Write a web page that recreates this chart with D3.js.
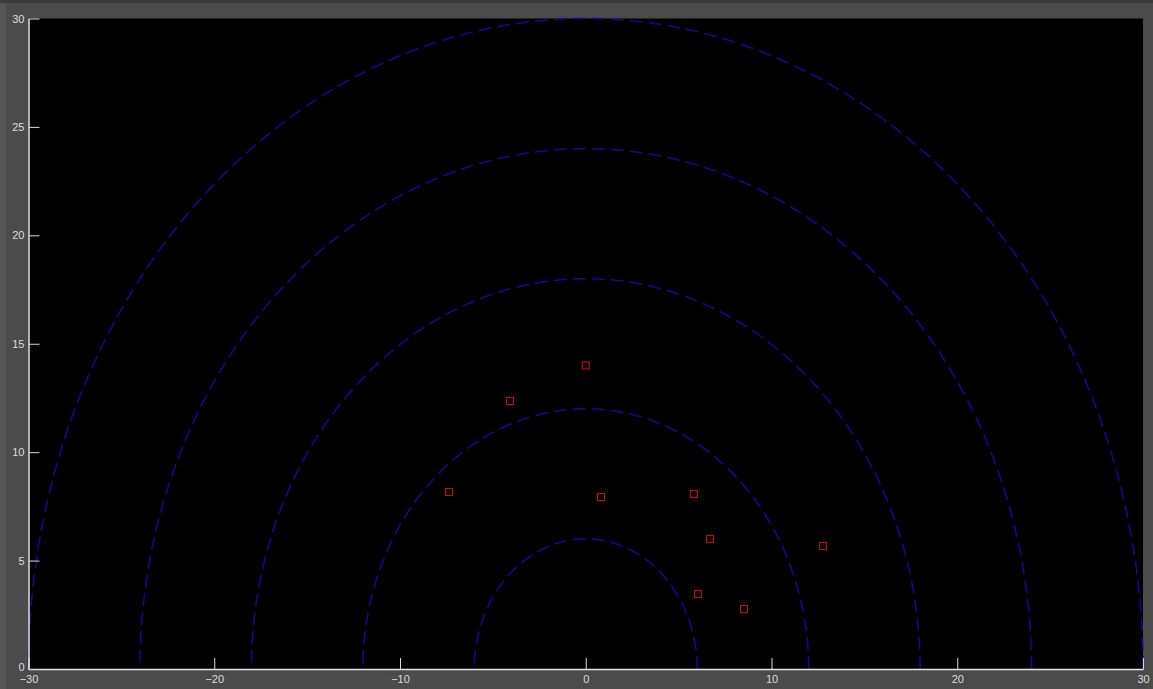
<!DOCTYPE html>
<html><head><meta charset="utf-8">
<script src="https://cdn.jsdelivr.net/npm/d3@7"></script>
<style>
html,body{margin:0;padding:0;background:#4b4b4b;overflow:hidden;}
svg{display:block;}
</style></head>
<body>
<svg id="chart" width="1153" height="689"></svg>
<script>
// Data
const radii = [6, 12, 18, 24, 30];
const pointsX = [0.0, -4.08, -7.36, 0.82, 5.83, 6.69, 12.77, 6.04, 8.52];
const pointsY = [14.0, 12.36, 8.16, 7.93, 8.07, 6.0, 5.67, 3.46, 2.77];
const xTicks = [-30, -20, -10, 0, 10, 20, 30];
const yTicks = [0, 5, 10, 15, 20, 25, 30];

(function(){
const svg = d3.select("#chart");
const W = 1153, H = 689;
const mL = 28.5, mR = 1143, mT = 18.5, mB = 669;

// background bands
svg.append("rect").attr("x",0).attr("y",0).attr("width",W).attr("height",H).attr("fill","#4b4b4b");
svg.append("rect").attr("x",0).attr("y",0).attr("width",6).attr("height",H).attr("fill","#565656");
svg.append("rect").attr("x",0).attr("y",0).attr("width",W).attr("height",3).attr("fill","#3b3b3b");

const x = d3.scaleLinear().domain([-30, 30]).range([mL, mR]);
const y = d3.scaleLinear().domain([0, 30]).range([mB, mT]);

svg.append("rect").attr("x", mL).attr("y", mT)
  .attr("width", mR - mL).attr("height", mB - mT).attr("fill", "#000");

svg.append("clipPath").attr("id","clip").append("rect")
  .attr("x", mL-2).attr("y", mT-2).attr("width", mR-mL+4).attr("height", mB-mT+2);

const g = svg.append("g").attr("clip-path","url(#clip)");

// semicircles
const line = d3.line().x(d => x(d[0])).y(d => y(d[1]));
radii.forEach(r => {
  const pts = d3.range(0, 361).map(i => {
    const a = Math.PI * i / 360;
    return [r * Math.cos(a), r * Math.sin(a)];
  });
  g.append("path").attr("d", line(pts))
    .attr("fill","none").attr("stroke","#0e0e82").attr("stroke-width",1.6)
    .attr("stroke-dasharray","13,6");
});

// points
const s = 7;
g.selectAll("rect.pt").data(pointsX.map((v,i)=>[v, pointsY[i]])).enter()
  .append("rect").attr("class","pt")
  .attr("x", d => x(d[0]) - s/2).attr("y", d => y(d[1]) - s/2)
  .attr("width", s).attr("height", s)
  .attr("fill","none").attr("stroke","#cc1010").attr("stroke-width",1);

// axes
const tickLen = 11;
const xAxis = d3.axisBottom(x).tickValues(xTicks).tickSizeInner(-tickLen).tickSizeOuter(0).tickPadding(5);
const yAxis = d3.axisLeft(y).tickValues(yTicks).tickSizeInner(-tickLen).tickSizeOuter(0).tickPadding(4);

const gx = svg.append("g").attr("transform", `translate(0,${mB})`).call(xAxis);
const gy = svg.append("g").attr("transform", `translate(${mL},0)`).call(yAxis);
[gx, gy].forEach(a => {
  a.select(".domain").attr("stroke","#e6e6e6").attr("stroke-width",1.5);
  a.selectAll(".tick line").attr("stroke","#d8d8d8").attr("stroke-width",1);
  a.selectAll(".tick text").attr("fill","#dcdcdc")
    .style("font-family","Arial, 'Liberation Sans', sans-serif").style("font-size","11px");
});
gx.selectAll(".tick text").attr("dy","0.71em").attr("y", 6);
gy.selectAll(".tick text").filter(d => d === 0).attr("dy","0.1em");
})();
</script>
</body></html>
